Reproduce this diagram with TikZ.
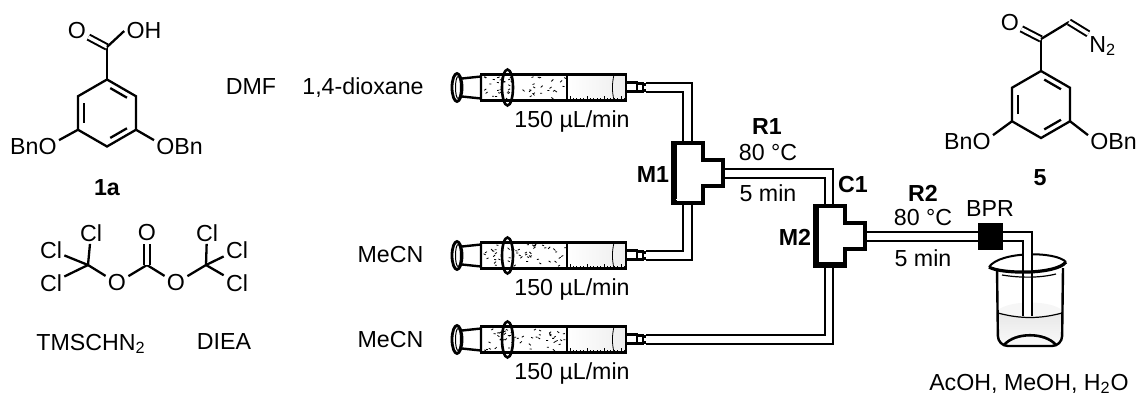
\documentclass[tikz,border=0pt]{standalone}
\usepackage{fontspec}
\setmainfont{Liberation Sans}
\usetikzlibrary{calc}

\newcommand{\benzring}[3]{%
  \coordinate (#1c) at (#2,#3);
  \foreach \i/\a in {1/-90,2/-30,3/30,4/90,5/150,6/210}
    \coordinate (#1\i) at ($(#1c)+(\a:33.5)$);
  \draw[bond] (#11) -- (#12) -- (#13) -- (#14) -- (#15) -- (#16) -- cycle;
  \draw[bond] ($(#11)!.14!(#12)!.2!(#1c)$) -- ($(#12)!.14!(#11)!.2!(#1c)$);
  \draw[bond] ($(#13)!.14!(#14)!.2!(#1c)$) -- ($(#14)!.14!(#13)!.2!(#1c)$);
  \draw[bond] ($(#15)!.14!(#16)!.2!(#1c)$) -- ($(#16)!.14!(#15)!.2!(#1c)$);
}

\tikzset{
  bond/.style={line width=1.15pt,line join=miter},
  dbond/.style={line width=1pt,double=white,double distance=1.7pt},
  atom/.style={inner sep=1pt,font=\fontsize{11.6}{12}\selectfont},
  label/.style={inner sep=0pt,font=\fontsize{11.6}{12}\selectfont},
  strong/.style={inner sep=0pt,font=\fontsize{11.6}{12}\selectfont\bfseries},
  tube/.style={draw=black,line width=1pt,double=white,double distance=3.4pt},
  syringe/.pic={
    \fill[white] (29,-13) rectangle (174,13);
    \shade[left color=white,right color=gray!14] (115,-13) rectangle (174,13);
    \foreach \n in {1,...,50}
      \draw[line width=.4pt] ({31+rnd*82},{-11+rnd*22}) -- ++(2,{-2+rnd*4});
    % plunger rod and flange
    \draw[line width=1.2pt,fill=white] (10,-9) -- (29,-11) -- (29,11) -- (10,9);
    \draw[line width=1.4pt,fill=white] (5,0) ellipse [x radius=5,y radius=14];
    \draw[line width=.5pt] (6,0) ellipse [x radius=2.5,y radius=11];
    % barrel
    \draw[line width=1.2pt] (29,-13) -- (174,-13) -- (174,13) -- (29,13) -- cycle;
    \draw[line width=1.9pt] (29,-13) -- (115,-13) (29,13) -- (115,13);
    \draw[line width=1.2pt] (115,-13) -- (115,13);
    \draw[line width=.4pt] (162,-13) to[bend right=12] (162,13);
    \foreach \n in {0,1,...,16}
      \draw[line width=.4pt] ({118+3.4*\n},12) -- ++(0,-2);
    \foreach \n in {0,1,2,3}
      \draw[line width=.4pt] ({118+17*\n},12) -- ++(0,-4);
    \draw[line width=1.3pt] (55.5,0) ellipse [x radius=5.5,y radius=18];
    % luer tip
    \draw[line width=1.2pt,fill=white] (174,-5) rectangle (185,4);
    \draw[line width=1.2pt,fill=white] (185,-4) rectangle (191,4);
    \draw[line width=1.2pt] (191,-3) -- (196,-3) (191,3) -- (196,3);
    \coordinate (-out) at (194,0);
  },
  teepiece/.pic={
    \draw[line width=1.7pt,fill=white,miter limit=4]
      (0,0) -- (30,0) -- (30,17) -- (50,17) -- (50,43) -- (30,43) -- (30,60) -- (0,60) -- cycle;
    \draw[line width=3.4pt] (1,-1) -- (1,61);
    \draw[line width=2.4pt] (0,0) -- (31,0);
  },
}

\begin{document}
\begin{tikzpicture}[x=.5pt,y=-.5pt]
  \useasboundingbox (0,0) rectangle (1139,396);
  \pgfmathsetseed{11}

  % acid 1a
  \benzring{a}{107}{113}
  \coordinate (aco) at (107,47);
  \node[atom] (ao) at (77,31) {O};
  \node[atom] (aoh) at (144,31) {OH};
  \node[atom,anchor=east] (abno) at (59,147) {BnO};
  \node[atom,anchor=west] (aobn) at (154,147) {OBn};
  \node[strong] (alabel) at (107,188) {1a};
  \draw[bond] (a1) -- (aco);
  \draw[dbond] (aco) -- (ao);
  \draw[bond] (aco) -- (aoh.west);
  \draw[bond] (a5) -- (abno.15);
  \draw[bond] (a3) -- (aobn.165);

  % triphosgene
  \coordinate (tc1) at (88,265);
  \coordinate (tc2) at (147,265);
  \coordinate (tc3) at (206,265);
  \node[atom] (tcla) at (91,233) {Cl};
  \node[atom] (tclb) at (51,250) {Cl};
  \node[atom] (tclc) at (51,283) {Cl};
  \node[atom] (tcld) at (207,233) {Cl};
  \node[atom] (tcle) at (237,250) {Cl};
  \node[atom] (tclf) at (237,283) {Cl};
  \node[atom] (to1) at (117,283) {O};
  \node[atom] (to2) at (176,283) {O};
  \node[atom] (to3) at (147,233) {O};
  \draw[bond] (tc1) -- (tcla);
  \draw[bond] (tc1) -- (tclb);
  \draw[bond] (tc1) -- (tclc);
  \draw[bond] (tc1) -- (to1) -- (tc2) -- (to2) -- (tc3);
  \draw[dbond] (tc2) -- (to3);
  \draw[bond] (tc3) -- (tcld);
  \draw[bond] (tc3) -- (tcle);
  \draw[bond] (tc3) -- (tclf);

  \node[label] (tms) at (91,344) {TMSCHN\textsubscript{2}};
  \node[label] (diea) at (224,342) {DIEA};

  % solvents
  \node[label] (dmf) at (251,87) {DMF};
  \node[label] (dioxane) at (363,88) {1,4-dioxane};
  \node[label] (mecna) at (390.5,255) {MeCN};
  \node[label] (mecnb) at (390.5,340) {MeCN};

  % pumps and tubing
  \pic (pa) at (452,87.5) {syringe};
  \pic (pb) at (452,255.5) {syringe};
  \pic (pc) at (452,339.5) {syringe};
  \node[label] (ratea) at (572,121) {150 µL/min};
  \node[label] (rateb) at (572,289) {150 µL/min};
  \node[label] (ratec) at (572,373) {150 µL/min};

  \coordinate (bprin) at (978,236.5);
  \coordinate (bprout) at (1003,236.5);
  \coordinate (drain) at (1027.5,316);

  % beaker, back part
  \fill[gray!7] (998,310) .. controls (1010,300) and (1050,300) .. (1062,310) -- (1062,316) -- (998,316) -- cycle;
  \shade[top color=gray!18,bottom color=gray!4] (998,313) .. controls (1020,319) and (1040,319) .. (1062,313) -- (1062,340) -- (1056,346) -- (1004,346) -- (998,340) -- cycle;
  \draw[line width=1pt] (989,267) .. controls (1000,251) and (1056,251) .. (1066,262);

  \draw[tube] (pa-out) -| (687.5,143);
  \draw[tube] (pb-out) -| (687.5,203);
  \draw[tube] (722,173.5) -| (829,206);
  \draw[tube] (pc-out) -| (829,265);
  \draw[tube] (863,236.5) -- (bprin);
  \draw[tube] (bprout) -| (drain);

  \pic (mixa) at (673,143) {teepiece};
  \pic (mixb) at (815,206) {teepiece};
  \draw[line width=.5pt,white] (676,199.5) -- (701,199.5);
  \draw[line width=2.6pt] (815,265) -- (846,265);
  \node[fill=black,minimum width=12.5pt,minimum height=13.5pt,inner sep=0pt] (bpr) at (990.5,236.5) {};

  % beaker, front part
  \draw[line width=.6pt] (998,313) .. controls (1020,319) and (1040,319) .. (1062,313);
  \draw[line width=.6pt] (1002,275) .. controls (1020,278) and (1040,278) .. (1056,274);
  \draw[line width=1.6pt] (989,267) .. controls (1000,274) and (1056,275) .. (1066,262);
  \draw[line width=1.2pt,rounded corners=5pt] (997,269) -- (998,346) -- (1062,346) -- (1063,268);
  \draw[line width=1.3pt] (1004,345) .. controls (1015,332) and (1045,332) .. (1056,345);

  % conditions
  \node[strong] (mlabela) at (653,175) {M1};
  \node[strong] (mlabelb) at (795,237) {M2};
  \node[strong] (clabel) at (853,185) {C1};
  \node[strong] (rlabela) at (767,127) {R1};
  \node[label] (tempa) at (768,153) {80 °C};
  \node[label] (timea) at (768,193) {5 min};
  \node[strong] (rlabelb) at (923,193) {R2};
  \node[label] (tempb) at (923,218) {80 °C};
  \node[label] (timeb) at (923,258) {5 min};
  \node[label] (bprlabel) at (990,209) {BPR};
  \node[label] (quench) at (1029,384) {AcOH, MeOH, H\textsubscript{2}O};

  % diazoketone 5
  \benzring{d}{1041}{104.5}
  \coordinate (dco) at (1041,39);
  \coordinate (dch) at (1069,22);
  \node[atom] (do) at (1010,23) {O};
  \node[atom,anchor=west] (dn) at (1087,46) {N\textsubscript{2}};
  \node[atom,anchor=east] (dbno) at (993,142) {BnO};
  \node[atom,anchor=west] (dobn) at (1088,142) {OBn};
  \node[strong] (dlabel) at (1040,178) {5};
  \draw[bond] (d1) -- (dco);
  \draw[dbond] (dco) -- (do);
  \draw[bond] (dco) -- (dch);
  \draw[dbond] (dch) -- (dn.140);
  \draw[bond] (d5) -- (dbno.15);
  \draw[bond] (d3) -- (dobn.165);
\end{tikzpicture}
\end{document}
